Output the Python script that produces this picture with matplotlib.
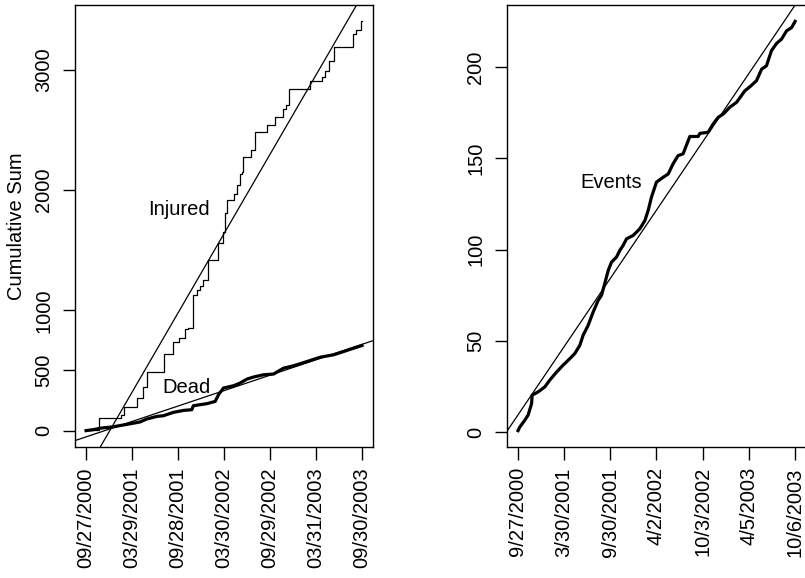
import matplotlib
matplotlib.use("Agg")
import matplotlib.pyplot as plt
import numpy as np
import pandas as pd

plt.rcParams['font.family'] = ['Liberation Sans', 'DejaVu Sans']

# left panel: days since 09/27/2000
inj_days = [0, 53, 138, 151, 202, 228, 242, 311, 348, 368, 394, 407, 427, 440, 455, 467,
            487, 527, 547, 554, 560, 587, 600, 611, 620, 626, 657, 673, 720, 753, 783, 796,
            806, 892, 939, 952, 965, 985, 1062, 1075, 1096, 1098]
inj_vals = [5, 105, 132, 200, 270, 362, 491, 638, 740, 768, 843, 851, 1127, 1168, 1200, 1250,
            1417, 1555, 1651, 1804, 1914, 1969, 2038, 2135, 2148, 2272, 2328, 2480, 2535, 2604, 2673, 2709,
            2839, 2908, 2935, 2990, 3074, 3184, 3295, 3328, 3400, 3400]

dead_days = [0, 29, 56, 109, 162, 215, 242, 282, 308, 348, 388, 421, 427, 481, 514, 527, 547,
             587, 613, 640, 666, 706, 746, 786, 826, 879, 932, 985, 1025, 1065, 1098]
dead_vals = [0, 8, 20, 32, 52, 72, 97, 118, 124, 152, 168, 174, 207, 224, 243, 298, 354,
             373, 395, 428, 445, 464, 470, 519, 539, 574, 610, 630, 657, 685, 707]

inj_fit = (-340.0, 3.60)    # intercept, slope per day
dead_fit = (-52.0, 0.70)

left_ticklabels = ['09/27/2000', '03/29/2001', '09/28/2001', '03/30/2002',
                   '09/29/2002', '03/31/2003', '09/30/2003']

# right panel: days since 9/27/2000
ev_days = [1, 8, 28, 41, 55, 57, 81, 108, 127, 154, 180, 207, 227, 247, 260, 280, 300, 320,
           333, 346, 360, 373, 393, 406, 419, 433, 459, 486, 506, 519, 532, 552, 579, 599, 618,
           638, 658, 685, 718, 725, 758, 778, 798, 818, 844, 871, 904, 924, 950, 971, 990,
           1010, 1030, 1050, 1070, 1090, 1104]
ev_vals = [1, 3, 6.7, 9.5, 15.8, 20.4, 22.2, 25, 28.6, 33, 36.8, 40.4, 43.2, 47.7, 53.2, 58.6,
           65.9, 72.3, 75, 81.4, 88.7, 93.2, 96, 99.6, 102.3, 106, 107.8, 111.5, 116, 121.5,
           128.7, 137, 139.7, 141.5, 147, 151.5, 152.5, 162, 162, 163.7, 164.3, 168.9, 172.5,
           174.3, 178, 180.7, 187, 189.2, 192.5, 198.9, 200.7, 209, 212.9, 215.3, 219.8, 221.6, 225]

ev_fit = (9.45, 0.2033)

right_ticklabels = ['9/27/2000', '3/30/2001', '9/30/2001', '4/2/2002',
                    '10/3/2002', '4/5/2003', '10/6/2003']


def tick_days(labels):
    d = pd.to_datetime(labels, format='%m/%d/%Y')
    return (d - d[0]).days.values


def r_lim(lo, hi):
    pad = 0.04 * (hi - lo)
    return lo - pad, hi + pad


def style_axis(ax, ticks, labels):
    ax.set_xticks(ticks)
    ax.set_xticklabels(labels, rotation=90)
    ax.tick_params(axis='both', direction='out', length=9, width=1.0, labelsize=14.5)
    ax.tick_params(axis='x', pad=5.5)
    ax.tick_params(axis='y', pad=6.5)
    for lab in ax.get_yticklabels():
        lab.set_rotation(90)
        lab.set_va('center')
    for s in ax.spines.values():
        s.set_linewidth(1.0)


fig = plt.figure(figsize=(8.05, 5.78), dpi=100)

# left panel
ax1 = fig.add_axes([75 / 805, 131 / 578, 298 / 805, 442 / 578])
ax1.step(inj_days, inj_vals, where='post', color='black', lw=0.9)
ax1.plot(dead_days, dead_vals, color='black', lw=2.3, solid_joinstyle='round')
ax1.axline((0, inj_fit[0]), slope=inj_fit[1], color='black', lw=0.9)
ax1.axline((0, dead_fit[0]), slope=dead_fit[1], color='black', lw=0.9)
ax1.set_xlim(*r_lim(0, max(inj_days)))
ax1.set_ylim(*r_lim(min(dead_vals), max(inj_vals)))
ax1.set_yticks([0, 500, 1000, 2000, 3000])
style_axis(ax1, tick_days(left_ticklabels), left_ticklabels)
for lab in ax1.get_yticklabels():
    lab.set_rotation(90)
    lab.set_va('center')
ax1.set_ylabel('Cumulative Sum', fontsize=14.5)
ax1.yaxis.set_label_coords(-0.165, 0.5)
ax1.text(370, 1839, 'Injured', ha='center', va='center', fontsize=14.5)
ax1.text(400, 362, 'Dead', ha='center', va='center', fontsize=14.5)

# right panel
ax2 = fig.add_axes([506.7 / 805, 131 / 578, 299.5 / 805, 442 / 578])
ax2.plot(ev_days, ev_vals, color='black', lw=2.3, solid_joinstyle='round')
ax2.axline((0, ev_fit[0]), slope=ev_fit[1], color='black', lw=0.9)
ax2.set_xlim(*r_lim(0, max(ev_days)))
ax2.set_ylim(*r_lim(min(ev_vals), max(ev_vals)))
ax2.set_yticks([0, 50, 100, 150, 200])
style_axis(ax2, tick_days(right_ticklabels), right_ticklabels)
for lab in ax2.get_yticklabels():
    lab.set_rotation(90)
    lab.set_va('center')
ax2.text(373, 136.6, 'Events', ha='center', va='center', fontsize=14.5)

fig.savefig("out.png", dpi=100)
